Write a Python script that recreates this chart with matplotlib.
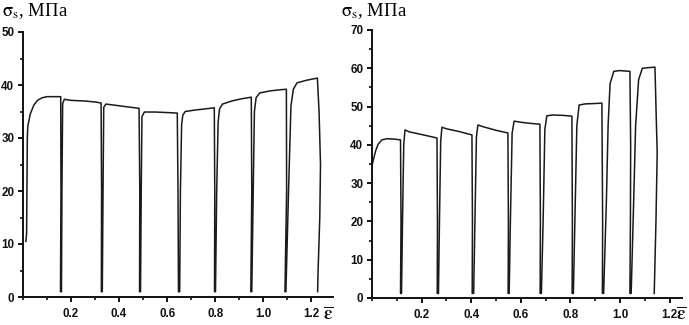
import matplotlib
matplotlib.use("Agg")
import matplotlib.pyplot as plt
from matplotlib.ticker import MultipleLocator
import numpy as np

# left panel: stress-strain curve with unloading cycles
left_eps = [0.012, 0.015, 0.018, 0.020, 0.030, 0.045, 0.060, 0.080, 0.100, 0.130, 0.157,
            0.158, 0.156,
            0.160, 0.162, 0.165, 0.172, 0.200, 0.250, 0.300, 0.325,
            0.327, 0.326,
            0.330, 0.333, 0.336, 0.345, 0.380, 0.430, 0.483,
            0.486, 0.485,
            0.489, 0.492, 0.495, 0.505, 0.550, 0.600, 0.642,
            0.645, 0.647,
            0.652, 0.655, 0.660, 0.665, 0.675, 0.720, 0.760, 0.796,
            0.798, 0.797,
            0.801, 0.806, 0.812, 0.818, 0.830, 0.870, 0.910, 0.950,
            0.952, 0.948,
            0.952, 0.958, 0.963, 0.970, 0.985, 1.030, 1.070, 1.096,
            1.097, 1.090,
            1.094, 1.105, 1.115, 1.125, 1.140, 1.180, 1.225,
            1.232, 1.238, 1.235, 1.228, 1.226]
left_sig = [10.5, 12.0, 30.0, 32.2, 34.5, 36.2, 37.1, 37.6, 37.8, 37.8, 37.8,
            20.0, 1.0,
            1.0, 20.0, 36.5, 37.3, 37.1, 37.0, 36.8, 36.6,
            20.0, 1.0,
            1.0, 20.0, 35.8, 36.4, 36.2, 35.9, 35.6,
            20.0, 1.0,
            1.0, 20.0, 34.0, 34.9, 34.9, 34.8, 34.7,
            20.0, 1.0,
            1.0, 20.0, 32.5, 34.3, 35.0, 35.3, 35.5, 35.7,
            20.0, 1.0,
            1.0, 20.0, 33.0, 35.5, 36.4, 37.0, 37.4, 37.7,
            20.0, 1.0,
            1.0, 20.0, 35.0, 37.6, 38.5, 38.9, 39.1, 39.2,
            20.0, 1.0,
            1.0, 20.0, 36.0, 39.2, 40.4, 40.9, 41.3,
            35.0, 25.0, 15.0, 5.0, 1.0]

# right panel
right_eps = [0.000, 0.005, 0.015, 0.025, 0.040, 0.060, 0.090, 0.115,
             0.117, 0.115,
             0.119, 0.123, 0.128, 0.133, 0.150, 0.200, 0.262,
             0.264, 0.263,
             0.268, 0.272, 0.277, 0.282, 0.300, 0.350, 0.403,
             0.405, 0.404,
             0.410, 0.415, 0.421, 0.427, 0.450, 0.500, 0.548,
             0.550, 0.549,
             0.553, 0.558, 0.565, 0.573, 0.600, 0.640, 0.677,
             0.679, 0.678,
             0.683, 0.690, 0.697, 0.705, 0.730, 0.770, 0.806,
             0.808, 0.807,
             0.812, 0.818, 0.826, 0.835, 0.860, 0.900, 0.927,
             0.930, 0.929,
             0.934, 0.945, 0.952, 0.960, 0.975, 1.000, 1.040,
             1.043, 1.042, 1.040,
             1.045, 1.055, 1.063, 1.075, 1.090, 1.120, 1.141,
             1.147, 1.150, 1.145, 1.138]
right_sig = [34.5, 36.0, 38.5, 40.2, 41.3, 41.6, 41.5, 41.3,
             20.0, 1.2,
             1.2, 20.0, 40.0, 43.9, 43.4, 42.7, 41.8,
             20.0, 1.2,
             1.2, 20.0, 41.0, 44.6, 44.2, 43.5, 42.6,
             20.0, 1.2,
             1.2, 20.0, 42.0, 45.2, 44.7, 43.8, 43.1,
             20.0, 1.2,
             1.2, 20.0, 43.0, 46.2, 45.9, 45.6, 45.4,
             20.0, 1.2,
             1.2, 20.0, 44.0, 47.6, 47.8, 47.7, 47.5,
             20.0, 1.2,
             1.2, 20.0, 45.0, 50.4, 50.7, 50.8, 50.9,
             20.0, 1.2,
             1.2, 25.0, 45.0, 56.0, 59.2, 59.4, 59.2,
             40.0, 20.0, 1.2,
             1.2, 25.0, 45.0, 57.0, 60.0, 60.2, 60.3,
             45.0, 38.0, 20.0, 1.2]

x_ticks = [0.2, 0.4, 0.6, 0.8, 1.0, 1.2]
left_yticks = [0, 10, 20, 30, 40, 50]
right_yticks = [0, 10, 20, 30, 40, 50, 60, 70]

plt.rcParams["font.family"] = ["Liberation Sans", "DejaVu Sans"]
plt.rcParams["mathtext.fontset"] = "stix"


def style_axes(ax, xmax, ymax, yticks, eps_pos):
    ax.set_xlim(0, xmax)
    ax.set_ylim(0, ymax)
    for s in ["top", "right"]:
        ax.spines[s].set_visible(False)
    for s in ["left", "bottom"]:
        ax.spines[s].set_linewidth(1.4)
        ax.spines[s].set_color("#111111")
    ax.set_xticks(x_ticks)
    ax.set_xticklabels([f"{t:.1f}" for t in x_ticks])
    ax.xaxis.set_minor_locator(MultipleLocator(0.1))
    ax.set_yticks(yticks)
    ax.yaxis.set_minor_locator(MultipleLocator(5))
    ax.tick_params(which="major", direction="out", length=3.8, width=1.4,
                   labelsize=8.4, pad=2.5, colors="#111111")
    ax.tick_params(which="minor", direction="out", length=2.4, width=1.2,
                   colors="#111111")
    ax.tick_params(axis="x", which="major", pad=4)
    for lab in ax.get_xticklabels() + ax.get_yticklabels():
        lab.set_fontweight("bold")
    # strain axis label (epsilon with bar) at the end of the x axis
    ax.text(eps_pos[0], eps_pos[1], r"$\mathbf{\overline{ε}}$", transform=ax.transAxes,
            ha="center", va="center", fontsize=13.5, color="#111111")


fig = plt.figure(figsize=(6.89, 3.25), dpi=100)
ax1 = fig.add_axes([23 / 689, 1 - 297 / 325, 310 / 689, 265 / 325])
ax2 = fig.add_axes([372 / 689, 1 - 298 / 325, 310 / 689, 268 / 325])

ax1.plot(left_eps, left_sig, color="#1a1a1a", lw=1.1)
ax2.plot(right_eps, right_sig, color="#1a1a1a", lw=1.1)

style_axes(ax1, 1.29, 50, left_yticks, (0.985, -0.066))
style_axes(ax2, 1.25, 70, right_yticks, (0.998, -0.065))

ylab = r"$\mathrm{σ_s}$, МПа"
fig.text(2 / 689, 1 - 11 / 325, ylab, family="Liberation Serif",
         fontsize=13.5, va="center", ha="left")
fig.text(341 / 689, 1 - 11 / 325, ylab, family="Liberation Serif",
         fontsize=13.5, va="center", ha="left")

fig.savefig("out.png", dpi=100)
